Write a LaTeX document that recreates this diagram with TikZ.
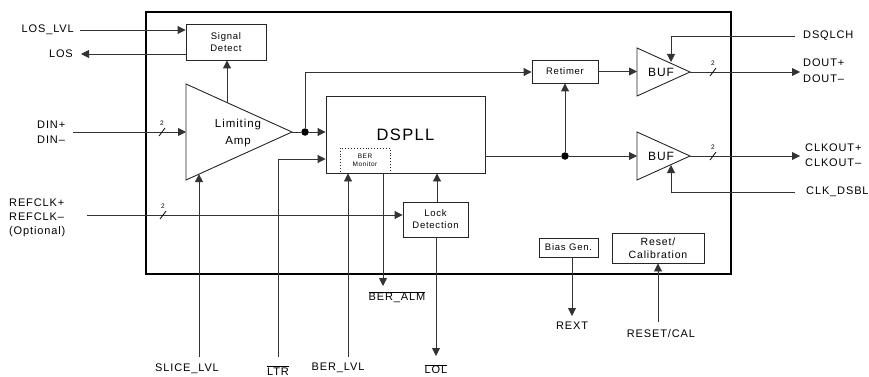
\documentclass[tikz,border=0pt]{standalone}
\usepackage{fontspec}
\setmainfont{Liberation Sans}[LetterSpace=8]
\usetikzlibrary{arrows.meta}
\begin{document}
\begin{tikzpicture}[x=1pt,y=-1pt,
  lbl/.style={font=\fontsize{11}{15}\selectfont, inner sep=0pt},
  blk/.style={draw=black!85, line width=0.9pt, inner sep=0pt, align=center, font=\fontsize{9.5}{12}\selectfont},
  wire/.style={line width=0.9pt, draw=black!80},
  arr/.style={wire, -{Triangle[length=8pt,width=8pt]}},
  dotn/.style={circle, fill=black, inner sep=0pt, minimum size=7.5pt},
  tri/.style={draw=black!85, line width=0.9pt},
  bus/.style={line width=0.8pt, draw=black},
  busn/.style={font=\fontsize{6.5}{6.5}\selectfont, inner sep=0pt}
]
\useasboundingbox (0,0) rectangle (869,377);
% chip outline
\node[draw=black, line width=1.5pt, minimum width=585pt, minimum height=262pt, inner sep=0pt] (chip) at (438.5,143) {};

% blocks
\node[blk, minimum width=80pt, minimum height=36pt] (sd) at (226,42) {Signal\\Detect};
\node[blk, minimum width=159pt, minimum height=77pt, font=\fontsize{16.5}{16}\selectfont] (dspll) at (405.5,134.5) {DSPLL};
\node[draw=black!85, dotted, line width=0.9pt, minimum width=50pt, minimum height=25pt, inner sep=0pt, align=center, font=\fontsize{6.5}{7.5}\selectfont] (ber) at (365,160.5) {BER\\Monitor};
\node[blk, minimum width=66pt, minimum height=23pt] (ret) at (565,71.5) {Retimer};
\node[blk, minimum width=65pt, minimum height=35pt] (lock) at (435.5,219.5) {Lock\\Detection};
\node[blk, minimum width=59pt, minimum height=19pt] (bias) at (568.5,247.5) {Bias Gen.};
\node[blk, minimum width=92pt, minimum height=30pt, font=\fontsize{10.5}{12.5}\selectfont] (rst) at (658,248) {Reset/\\Calibration};

% triangles
\coordinate (ampT) at (186,84);
\coordinate (ampB) at (186,180);
\coordinate (ampO) at (292,132);
\draw[tri] (ampT) -- (ampO) -- (ampB) -- cycle;
\node[lbl, align=center, font=\fontsize{11.5}{16.5}\selectfont] (amp) at (238,133) {Limiting\\Amp};

\coordinate (b1T) at (637,48);
\coordinate (b1B) at (637,96);
\coordinate (b1O) at (690,72);
\draw[tri] (b1T) -- (b1O) -- (b1B) -- cycle;
\node[lbl, font=\fontsize{12}{12}\selectfont] (buf1) at (661,72) {BUF};

\coordinate (b2T) at (637,132);
\coordinate (b2B) at (637,180);
\coordinate (b2O) at (690,156);
\draw[tri] (b2T) -- (b2O) -- (b2B) -- cycle;
\node[lbl, font=\fontsize{12}{12}\selectfont] (buf2) at (661,156) {BUF};

% LOS_LVL / LOS
\node[lbl, anchor=east] (loslvl) at (74,30) {LOS\_LVL};
\coordinate (loslvlS) at (80,30);
\draw[arr] (loslvlS) -- (loslvlS -| sd.west);
\node[lbl, anchor=east] (los) at (73,54) {LOS};
\coordinate (losE) at (81,54);
\draw[arr] (losE -| sd.west) -- (losE);

% amp -> signal detect
\coordinate (ampSD) at (227,102.6);
\draw[arr] (ampSD) -- (ampSD |- sd.south);

% DIN
\node[lbl, anchor=west, align=left] (din) at (37,132) {DIN+\\DIN–};
\coordinate (dinS) at (73,132);
\draw[arr] (dinS) -- (dinS -| ampT);
\draw[bus] (159,136) -- (165,128);
\node[busn] (dinbus) at (162,123) {2};

% amp output
\node[dotn] (d1) at (305,132) {};
\draw[wire] (ampO) -- (d1);
\draw[arr] (d1) -- (d1 -| dspll.west);
\coordinate (d1up) at (305,72);
\draw[arr] (d1) -- (d1up) -- (d1up -| ret.west);

% LTR
\coordinate (ltrS) at (278,357);
\coordinate (ltrC) at (278,159);
\draw[arr] (ltrS) -- (ltrC) -- (ltrC -| dspll.west);
\node[lbl, anchor=base] (ltr) at (278,375.5) {$\overline{\hbox{LTR}}$};

% SLICE_LVL
\coordinate (sliceS) at (199,357);
\coordinate (sliceE) at (199,174.1);
\draw[arr] (sliceS) -- (sliceE);
\node[lbl] (slice) at (187,369) {SLICE\_LVL};

% BER_LVL
\coordinate (berlS) at (348,357);
\draw[arr] (berlS) -- (berlS |- dspll.south);
\node[lbl] (berl) at (338,368) {BER\_LVL};

% BER_ALM
\coordinate (beraE) at (383,286);
\draw[arr] (beraE |- dspll.south) -- (beraE);
\node[lbl] (bera) at (397,297) {$\overline{\hbox{BER\_ALM}}$};

% REFCLK
\node[lbl, anchor=west, align=left, font=\fontsize{11}{14}\selectfont] (refclk) at (9,218) {REFCLK+\\REFCLK–\\(Optional)};
\coordinate (refS) at (87,215);
\draw[arr] (refS) -- (refS -| lock.west);
\draw[bus] (160,219) -- (166,211);
\node[busn] (refbus) at (163,206) {2};

% lock detection
\coordinate (lockU) at (437,202);
\draw[arr] (lockU) -- (lockU |- dspll.south);
\coordinate (lolE) at (436,356);
\draw[arr] (lolE |- lock.south) -- (lolE);
\node[lbl] (lol) at (436,369) {$\overline{\hbox{LOL}}$};

% DSPLL output
\node[dotn] (d2) at (565,156) {};
\draw[wire] (d2 -| dspll.east) -- (d2);
\draw[arr] (d2) -- (d2 -| b2T);
\draw[arr] (d2) -- (ret.south);
\draw[arr] (ret.east) -- (ret.east -| b1T);

% DSQLCH
\coordinate (dsqS) at (795,36);
\coordinate (dsqC) at (671,36);
\draw[arr] (dsqS) -- (dsqC) -- (671,62);
\node[lbl, anchor=west] (dsq) at (803,36) {DSQLCH};

% DOUT
\coordinate (doutE) at (800,72);
\draw[arr] (b1O) -- (doutE);
\draw[bus] (710,76) -- (716,68);
\node[busn] (doutbus) at (713,63) {2};
\node[lbl, anchor=west, align=left, font=\fontsize{11}{16}\selectfont] (dout) at (803,71) {DOUT+\\DOUT–};

% CLKOUT
\coordinate (clkE) at (800,156);
\draw[arr] (b2O) -- (clkE);
\draw[bus] (710,160) -- (716,152);
\node[busn] (clkbus) at (713,147) {2};
\node[lbl, anchor=west, align=left] (clkout) at (805,155.5) {CLKOUT+\\CLKOUT–};

% CLK_DSBL
\coordinate (cdS) at (795,192);
\coordinate (cdC) at (671,192);
\draw[arr] (cdS) -- (cdC) -- (671,165);
\node[lbl, anchor=west] (cd) at (806,192) {CLK\_DSBL};

% Bias / REXT
\coordinate (rextE) at (572,316);
\draw[arr] (rextE |- bias.south) -- (rextE);
\node[lbl] (rext) at (572,326) {REXT};

% Reset
\coordinate (rstS) at (658,322);
\draw[arr] (rstS) -- (rst.south);
\node[lbl] (rstl) at (661,334) {RESET/CAL};
\end{tikzpicture}
\end{document}
